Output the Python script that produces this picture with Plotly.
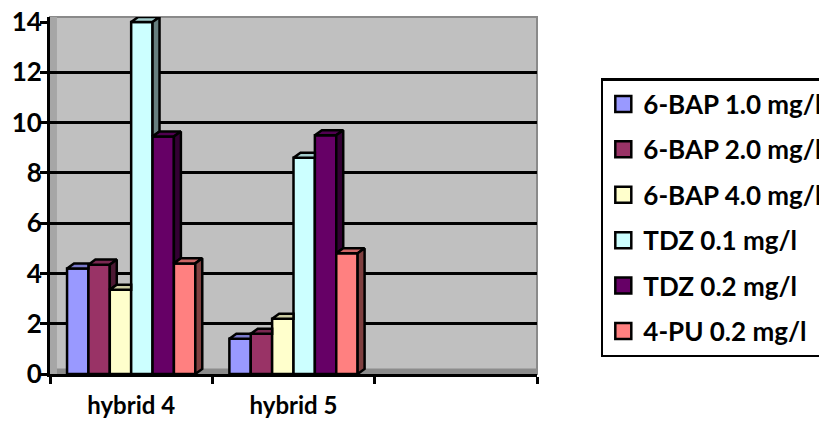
import plotly.graph_objects as go

# ---- data ----
categories = ["hybrid 4", "hybrid 5", ""]
series_names = ["6-BAP 1.0 mg/l", "6-BAP 2.0 mg/l", "6-BAP 4.0 mg/l",
                "TDZ 0.1 mg/l", "TDZ 0.2 mg/l", "4-PU 0.2 mg/l"]
bap_1_0 = [4.2, 1.4, None]
bap_2_0 = [4.35, 1.6, None]
bap_4_0 = [3.35, 2.2, None]
tdz_0_1 = [14.0, 8.6, None]
tdz_0_2 = [9.45, 9.5, None]
pu_0_2 = [4.4, 4.8, None]
y_ticks = [0, 2, 4, 6, 8, 10, 12, 14]
grid_vals = [2, 4, 6, 8, 10, 12]

series_values = [bap_1_0, bap_2_0, bap_4_0, tdz_0_1, tdz_0_2, pu_0_2]
colors = ["#9999FF", "#993366", "#FFFFCC", "#CCFFFF", "#660066", "#FF8080"]

FONT = "Lato"
FSIZE = 26


def shade(hexc, f):
    hexc = hexc.lstrip("#")
    r, g, b = (int(hexc[i:i + 2], 16) for i in (0, 2, 4))
    return "#%02X%02X%02X" % (int(r * f), int(g * f), int(b * f))


GROUP = 0.79
n = len(series_values)
w = GROUP / n
dx = 0.043   # depth offset (x units)
dy = 0.2     # depth offset (y units)

fig = go.Figure()

# front faces
for i, (name, vals, col) in enumerate(zip(series_names, series_values, colors)):
    xs, ys = [], []
    for c, v in enumerate(vals):
        if v is None:
            continue
        xs.append(c - GROUP / 2 + w * (i + 0.5))
        ys.append(v)
    fig.add_trace(go.Bar(x=xs, y=ys, width=w, name=name, showlegend=False,
                         marker=dict(color=col, line=dict(color="black", width=2.5)),
                         hoverinfo="skip"))

# 3D top and side faces
for c in range(len(categories)):
    for i in range(n):
        v = series_values[i][c]
        if v is None:
            continue
        x0 = c - GROUP / 2 + w * i
        x1 = x0 + w
        nxt = series_values[i + 1][c] if i + 1 < n else None
        b = nxt if nxt is not None else 0
        # top face
        if nxt is not None and nxt > v:
            tx = [x0, x1, x1, x0 + dx, x0]
        else:
            tx = [x0, x1, x1 + dx, x0 + dx, x0]
        ty = [v, v, v + dy, v + dy, v]
        fig.add_trace(go.Scatter(x=tx, y=ty, mode="lines", fill="toself",
                                 fillcolor=shade(colors[i], 0.8),
                                 line=dict(color="black", width=2.5),
                                 showlegend=False, hoverinfo="skip"))
        # side face
        if v > b:
            sx = [x1, x1, x1 + dx, x1 + dx, x1]
            sy = [b, v, v + dy, b + dy, b]
            fig.add_trace(go.Scatter(x=sx, y=sy, mode="lines", fill="toself",
                                     fillcolor=shade(colors[i], 0.5),
                                     line=dict(color="black", width=2.5),
                                     showlegend=False, hoverinfo="skip"))

# legend entries
for name, col in zip(series_names, colors):
    fig.add_trace(go.Scatter(x=[None], y=[None], mode="markers", name=name,
                             marker=dict(symbol="square", size=16, color=col,
                                         line=dict(color="black", width=2.5)),
                             legendgroup=name))

fig.update_layout(
    width=819, height=413,
    margin=dict(l=42, r=290, t=9, b=47, autoexpand=False),
    paper_bgcolor="white",
    plot_bgcolor="#C0C0C0",
    font=dict(family=FONT, size=FSIZE, color="black", weight="bold"),
    barmode="overlay",
    showlegend=True,
    legend=dict(x=1.131, y=0.829, xanchor="left", yanchor="top",
                bordercolor="black", borderwidth=2.5, bgcolor="white",
                tracegroupgap=8.6, traceorder="grouped", itemwidth=30,
                font=dict(family=FONT, size=FSIZE, weight="bold")),
    shapes=[
        dict(type="rect", xref="x", yref="y", x0=-0.5, x1=2.5, y0=0, y1=0.22,
             fillcolor="#8C8C8C", line=dict(width=0), layer="below"),
        dict(type="rect", xref="x", yref="y", x0=-0.5, x1=-0.5 + dx, y0=0, y1=14.2,
             fillcolor="#A6A6A6", line=dict(width=0), layer="below"),
        dict(type="rect", xref="paper", yref="paper", x0=0, x1=1, y0=0, y1=1,
             line=dict(color="#8A8A8A", width=2), layer="below"),
    ],
)

fig.update_xaxes(
    range=[-0.5, 2.5], tickmode="array", tickvals=[0, 1],
    ticktext=categories[:2], ticks="", showgrid=False, zeroline=False,
    showline=True, linecolor="black", linewidth=3, automargin=False,
    ticklabelstandoff=8, ticklabeloverflow="allow",
    tickfont=dict(family=FONT, size=24, weight="bold"),
    minor=dict(tickmode="array", tickvals=[-0.5, 0.5, 1.5, 2.5], ticks="outside",
               ticklen=7, tickwidth=3, tickcolor="black", showgrid=False),
)
fig.update_yaxes(
    range=[0, 14.2], tickmode="array", tickvals=y_ticks, ticks="outside",
    ticklen=7, tickwidth=3, tickcolor="black", showgrid=False, zeroline=False,
    showline=True, linecolor="black", linewidth=3, automargin=False,
    ticklabelstandoff=-7, ticklabeloverflow="allow",
    tickfont=dict(family=FONT, size=FSIZE, weight="bold"),
    minor=dict(tickmode="array", tickvals=grid_vals, ticks="", showgrid=True,
               gridcolor="black", gridwidth=3),
)

fig.write_html("out.html")
